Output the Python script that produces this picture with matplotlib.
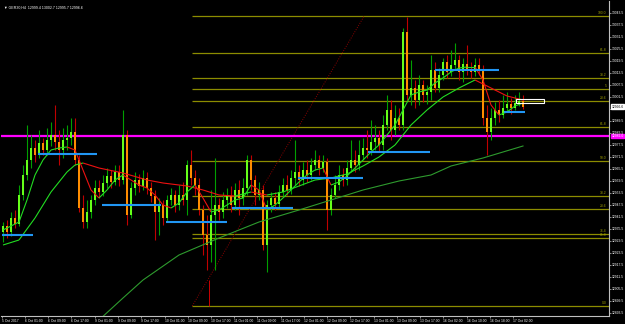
import numpy as np
import matplotlib
matplotlib.use("Agg")
import matplotlib.pyplot as plt
from matplotlib.collections import LineCollection
from matplotlib.patches import Rectangle

plt.rcParams["font.family"] = ["Liberation Sans", "DejaVu Sans"]

# GER30 H4 candles
opens = [12934, 12937, 12934, 12941, 12938, 12952.5, 12962.5, 12970, 12976, 12972.5,
         12978.5, 12975, 12980, 12982.5, 12979, 12975, 12980, 12981, 12984, 12970,
         12946, 12939, 12944, 12950, 12956, 12954, 12958.5, 12962, 12959, 12964,
         12960, 12982.5, 12942.5, 12956, 12960, 12957, 12961, 12956, 12952, 12944,
         12947.5, 12941, 12950, 12952.5, 12947.5, 12952.5, 12950, 12967.5, 12961, 12957.5,
         12945, 12932.5, 12927.5, 12942.5, 12947.5, 12944, 12950, 12952, 12947.5, 12955,
         12951, 12956, 12970, 12960, 12952.5, 12955, 12927.5, 12947.5, 12951, 12948,
         12954, 12957.5, 12955, 12961, 12964, 12960, 12965, 12962.5, 12967.5, 12970,
         12966, 12969, 12945, 12952.5, 12957.5, 12962.5, 12960, 12966, 12970, 12967.5,
         12972.5, 12976, 12975, 12979, 12981, 12977.5, 12987.5, 12995, 12985, 12991,
         12987.5, 13034, 13002.5, 13006, 13000, 13007.5, 13002.5, 13004, 13015, 13006,
         13012.5, 13019, 13014, 13017.5, 13020, 13014, 13018, 13015, 13014, 13017.5,
         13015, 12991, 12984, 12991, 12995, 12992.5, 12996, 12998, 12996, 12998.5,
         12999.4]
closes = [12937, 12934, 12941, 12938, 12952.5, 12962.5, 12970, 12976, 12972.5, 12978.5,
          12975, 12980, 12982.5, 12979, 12975, 12980, 12981, 12984, 12970, 12946,
          12939, 12944, 12950, 12956, 12954, 12958.5, 12962, 12959, 12964, 12960,
          12982.5, 12942.5, 12956, 12960, 12957, 12961, 12956, 12952, 12944, 12947.5,
          12941, 12950, 12952.5, 12947.5, 12952.5, 12950, 12967.5, 12961, 12957.5, 12945,
          12932.5, 12927.5, 12942.5, 12947.5, 12944, 12950, 12952, 12947.5, 12955, 12951,
          12956, 12970, 12960, 12952.5, 12955, 12927.5, 12947.5, 12951, 12948, 12954,
          12957.5, 12955, 12961, 12964, 12960, 12965, 12962.5, 12967.5, 12970, 12966,
          12969, 12945, 12952.5, 12957.5, 12962.5, 12960, 12966, 12970, 12967.5, 12972.5,
          12976, 12975, 12979, 12981, 12977.5, 12987.5, 12995, 12985, 12991, 12987.5,
          13034, 13002.5, 13006, 13000, 13007.5, 13002.5, 13004, 13015, 13006, 13012.5,
          13019, 13014, 13017.5, 13020, 13014, 13018, 13015, 13014, 13017.5, 13015,
          12991, 12984, 12991, 12995, 12992.5, 12996, 12998, 12996, 12998.5, 12999.4,
          12996.6]
highs = [12939, 12940, 12944, 12945, 12957.5, 12967.5, 12987.5, 12982.5, 12980, 12985,
         12981, 12986, 12989, 12997.5, 12985, 12986, 12987.5, 12991, 12991, 12972.5,
         12952.5, 12950, 12952.5, 12960, 12960, 12962.5, 12966, 12965, 12967.5, 12967.5,
         12995, 12985, 12959, 12964, 12963, 12965, 12964, 12959, 12955, 12951,
         12950, 12952.5, 12956, 12955, 12957.5, 12959, 12970, 12975, 12965, 12961,
         12947.5, 12942.5, 12955, 12971, 12951, 12954, 12956, 12957, 12958.5, 12960,
         12961, 12972.5, 12972.5, 12962.5, 12959, 12957.5, 12950, 12954, 12954, 12957.5,
         12961, 12962.5, 12965, 12980, 12967.5, 12969, 12970, 12971, 12975, 12972.5,
         12972.5, 12971, 12956, 12962.5, 12967.5, 12966, 12970, 12980, 12975, 12980,
         12981, 12985, 12990, 12987.5, 12985, 12992.5, 13002.5, 13000, 12997.5, 12996,
         13036, 13041.5, 13020, 13010, 13012.5, 13010, 13007.5, 13022.5, 13019, 13016,
         13021, 13022.5, 13025, 13028.5, 13022.5, 13021, 13027.5, 13019, 13021, 13021,
         13017.5, 12997.5, 12996, 12999, 13000, 13002.5, 13004, 13001, 13002.5, 13004,
         13002.7]
lows = [12929, 12931, 12932, 12936, 12937, 12950, 12960, 12966, 12969, 12971,
        12972.5, 12972.5, 12977, 12975, 12967.5, 12971, 12975, 12977.5, 12967.5, 12944,
        12936, 12936, 12941, 12947.5, 12951, 12952, 12956, 12956, 12957.5, 12957,
        12958, 12937.5, 12941, 12952.5, 12954, 12955, 12953, 12949, 12930, 12932.5,
        12937.5, 12939, 12947.5, 12944, 12945, 12947.5, 12942.5, 12957.5, 12952.5, 12942.5,
        12922.5, 12915, 12919, 12915, 12940, 12941, 12946, 12944, 12945, 12942.5,
        12947.5, 12952.5, 12955, 12947.5, 12950, 12925, 12914, 12944, 12945, 12946,
        12952, 12952.5, 12953, 12957.5, 12957, 12957.5, 12959, 12960, 12965, 12962.5,
        12964, 12935, 12942.5, 12951, 12955, 12957, 12957.5, 12964, 12964, 12965,
        12970, 12971, 12972.5, 12975, 12974, 12975, 12985, 12980, 12982.5, 12985,
        12985, 13000, 12997.5, 12996, 12997.5, 12999, 12998, 13000, 13004, 13004,
        13010, 13011, 13012, 13015, 13010, 13009, 13012.5, 13011, 13012, 13012.5,
        12987.5, 12972.5, 12980, 12987.5, 12989, 12991, 12994, 12993, 12995, 12997,
        12995.7]

# moving averages sampled along the chart (bar index -> price)
fast_idx = [0, 4, 6, 8, 10, 12, 14, 16, 18, 20, 22, 24, 26, 28, 30, 32, 34, 36, 38, 40,
            42, 44, 46, 48, 50, 52, 54, 56, 58, 60, 62, 64, 66, 68, 70, 72, 74, 76, 78, 80,
            82, 84, 86, 88, 90, 92, 94, 96, 98, 100, 102, 104, 106, 108, 110, 112, 114, 116,
            118, 120, 122, 124, 126, 128, 130]
fast_ma = [12935, 12939, 12950, 12962.5, 12970, 12975, 12976, 12976.5, 12975, 12965,
           12955, 12951, 12955, 12960, 12962.5, 12960, 12957.5, 12956, 12952.5, 12947.5,
           12946, 12948.5, 12954, 12957.5, 12951, 12944, 12945, 12947.5, 12950, 12951,
           12957.5, 12955, 12945, 12947.5, 12951, 12955, 12959, 12962.5, 12965, 12966,
           12957.5, 12959, 12962, 12966, 12970, 12974, 12977.5, 12982.5, 12987.5, 12995,
           13002.5, 13004, 13005, 13008.5, 13011, 13014, 13016, 13016.5, 13016.5, 13010,
           12997.5, 12992.5, 12994, 12997, 12998.5]
mid_idx = [0, 4, 8, 12, 16, 18, 20, 24, 30, 36, 40, 46, 50, 54, 58, 62, 66, 70, 74, 78,
           82, 86, 90, 94, 98, 102, 106, 110, 114, 118, 122, 126, 130]
mid_ma = [12927.5, 12930, 12941, 12954, 12964, 12967.5, 12968.5, 12966, 12963.5, 12960,
          12958.5, 12957, 12955, 12952.5, 12952, 12954, 12952.5, 12954, 12957, 12960,
          12961, 12963, 12967, 12971.5, 12977.5, 12987.5, 12995, 13001.5, 13006, 13010,
          13006, 13002, 13000]
slow_idx = [24, 30, 35, 44, 54, 64, 74, 82, 90, 99, 107, 112, 120, 125, 130]
slow_ma = [12890, 12901, 12910, 12922.5, 12931, 12939, 12945, 12950, 12955, 12959.5,
           12962.5, 12967, 12971, 12974, 12977]

# blue support/resistance segments: start bar, end bar, price
sr_start = [-0.3, 8.8, 24.8, 40.8, 57.3, 73.8, 91.3, 108, 125.3]
sr_end = [7.5, 23.5, 39.5, 56, 72.5, 90, 106.8, 124, 130.5]
sr_price = [12932.5, 12973, 12947.5, 12939, 12946, 12961, 12974, 13015, 12994]

# fibonacci levels
fib_price = [13042, 13023.5, 13011, 13005.5, 12999.5, 12986.5, 12969.5, 12952,
             12945.5, 12933, 12931, 12897]
fib_label = ["100.0", "61.8", "38.2", "5", "23.6", "61.8", "50.0", "38.2",
             "23.6", "76.4", "61.8", "0.0"]
fib_start = 47.3
fib_top = 90.3
pivot_price = 12982.0
last_price = 12996.6

tick_bars = [-0.3, 5.5, 11.3, 17.1, 22.9, 28.7, 34.5, 40.4, 46.2, 52.0, 57.8, 63.6,
             69.4, 75.2, 81.0, 86.8, 92.7, 98.5, 104.3, 110.1, 115.9, 121.7, 127.5]
tick_labels = ["5 Oct 2017", "6 Oct 01:00", "6 Oct 09:00", "6 Oct 17:00", "9 Oct 01:00",
               "9 Oct 09:00", "9 Oct 17:00", "10 Oct 01:00", "10 Oct 09:00", "10 Oct 17:00",
               "11 Oct 01:00", "11 Oct 09:00", "11 Oct 17:00", "12 Oct 01:00", "12 Oct 09:00",
               "12 Oct 17:00", "13 Oct 01:00", "13 Oct 09:00", "13 Oct 17:00", "16 Oct 02:00",
               "16 Oct 10:00", "16 Oct 18:00", "17 Oct 02:00"]

UP_BODY, DN_BODY = "#66ff1a", "#ff8c00"
UP_WICK, DN_WICK = "#00a000", "#c00000"
RISE, FALL = "#22dd22", "#ee1111"
OLIVE = "#8c8c00"
FS = 2.4


def slope_line(ax, idx, vals, lw=0.8):
    pts = np.column_stack([idx, vals])
    segs = np.stack([pts[:-1], pts[1:]], axis=1)
    cols = [RISE if b >= a else FALL for a, b in zip(vals[:-1], vals[1:])]
    ax.add_collection(LineCollection(segs, colors=cols, linewidths=lw, zorder=4))


o, h, l, c = map(np.array, (opens, highs, lows, closes))
x = np.arange(len(c))
up = c >= o

fig = plt.figure(figsize=(6.25, 3.24), dpi=100, facecolor="black")
ax = fig.add_axes([1 / 625, 8 / 324, 608 / 625, 315 / 324], facecolor="black")
ax.set_xlim(-0.5, 151.5)
ax.set_ylim(12892, 13049.5)

# fibo object
ax.hlines(fib_price, fib_start, 151.5, colors=OLIVE, lw=0.9, zorder=1)
for p, t in zip(fib_price, fib_label):
    ax.text(150.9, p + 0.4, t, color="#a0a000", fontsize=FS, ha="right", va="bottom")
ax.plot([fib_start, fib_top], [fib_price[-1], fib_price[0]], color="#8b0000",
        lw=0.7, ls=(0, (1, 1.5)), zorder=1)
ax.vlines(51.5, 12897, 12910, color="#cc0000", lw=0.7, zorder=1)

ax.axhline(pivot_price, color="#ff00ff", lw=1.6, zorder=2)

# candles
ax.vlines(x[up], l[up], h[up], color=UP_WICK, lw=0.8, zorder=3)
ax.vlines(x[~up], l[~up], h[~up], color=DN_WICK, lw=0.8, zorder=3)
body = np.maximum(np.abs(c - o), 0.5)
ax.bar(x, body, bottom=np.minimum(o, c), width=0.62,
       color=np.where(up, UP_BODY, DN_BODY), linewidth=0, zorder=3)

# moving averages
ax.plot(slow_idx, slow_ma, color="#2e9b2e", lw=0.8, zorder=4)
slope_line(ax, np.array(mid_idx), np.array(mid_ma))
slope_line(ax, np.array(fast_idx), np.array(fast_ma))

ax.hlines(sr_price, sr_start, sr_end, colors="#2196f3", lw=1.5, zorder=5)
ax.add_patch(Rectangle((128.3, 12998.5), 7, 2, fill=False, ec="white", lw=0.8, zorder=6))

# axes in MT4 style
for s in ("top", "left"):
    ax.spines[s].set_visible(False)
for s in ("right", "bottom"):
    ax.spines[s].set_color("#c0c0c0")
    ax.spines[s].set_linewidth(0.8)
ax.yaxis.tick_right()
yt = np.arange(12893.5, 13044, 6)
ax.set_yticks(yt)
ax.set_yticklabels(["%.1f" % v for v in yt])
ax.set_xticks(tick_bars)
ax.set_xticklabels(tick_labels, ha="left")
ax.tick_params(colors="#c0c0c0", labelcolor="white", labelsize=FS, length=1.5,
               width=0.5, pad=0.8)

ax.text(1.004, last_price, "%.1f" % last_price, transform=ax.get_yaxis_transform(),
        fontsize=FS, color="black", va="center", ha="left",
        bbox=dict(boxstyle="square,pad=0.12", fc="white", ec="white"))
ax.text(1.004, pivot_price, "%.1f" % pivot_price, transform=ax.get_yaxis_transform(),
        fontsize=FS, color="white", va="center", ha="left",
        bbox=dict(boxstyle="square,pad=0.12", fc="#ff00ff", ec="#ff00ff"))

fig.text(4 / 625, 1 - 8 / 324, "\u25bc GER30,H4  12999.4 13002.7 12995.7 12996.6",
         color="white", fontsize=2.6, va="center", ha="left")

fig.savefig("out.png", dpi=100, facecolor="black")
